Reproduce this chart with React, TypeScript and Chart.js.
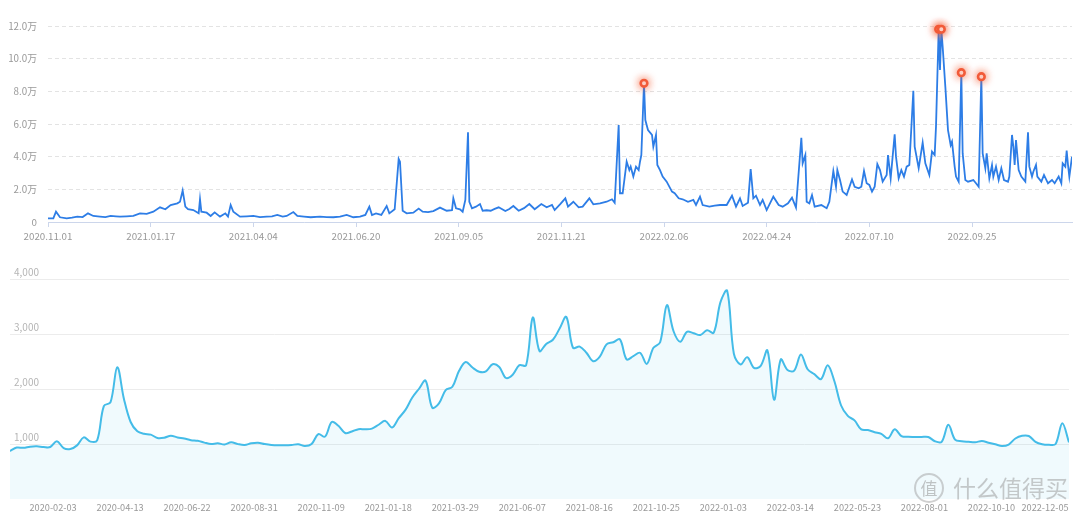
import React, { useEffect, useRef } from 'react';
import { Chart, registerables } from 'chart.js';

Chart.register(...registerables);

// ---------- Top chart (daily, 万) ----------
const topStartDate = '2020-11-01';
const topEndDay = 768;
const topTickLabels = ['2020.11.01', '2021.01.17', '2021.04.04', '2021.06.20', '2021.09.05', '2021.11.21', '2022.02.06', '2022.04.24', '2022.07.10', '2022.09.25'];
const topYTicks = [0, 2, 4, 6, 8, 10, 12];
// [day since 2020-11-01, value in 万]
const topPoints: [number, number][] = [
  [0, 0.22], [4, 0.22], [6, 0.63], [9, 0.29], [14, 0.22], [18, 0.27], [22, 0.33], [26, 0.3], [30, 0.53], [34, 0.37],
  [39, 0.33], [43, 0.3], [47, 0.37], [51, 0.35], [54, 0.33], [59, 0.35], [64, 0.37], [69, 0.53], [74, 0.5], [79, 0.63],
  [84, 0.9], [88, 0.78], [92, 1.04], [97, 1.14], [99, 1.24], [101, 1.92], [103, 0.94], [105, 0.78], [109, 0.73], [113, 0.53],
  [114, 1.39], [115, 0.63], [119, 0.57], [122, 0.37], [125, 0.59], [129, 0.33], [133, 0.53], [135, 0.33], [137, 1.04], [139, 0.63],
  [144, 0.33], [149, 0.35], [154, 0.37], [159, 0.3], [164, 0.33], [168, 0.35], [172, 0.43], [176, 0.33], [179, 0.37], [184, 0.61],
  [187, 0.37], [192, 0.33], [197, 0.29], [204, 0.33], [209, 0.3], [214, 0.29], [219, 0.33], [224, 0.43], [229, 0.29], [234, 0.33],
  [238, 0.43], [241, 0.94], [243, 0.43], [246, 0.53], [250, 0.43], [254, 0.98], [256, 0.53], [260, 0.78], [263, 3.86], [264, 3.69],
  [266, 0.69], [269, 0.53], [274, 0.57], [278, 0.82], [281, 0.63], [285, 0.6], [289, 0.67], [294, 0.88], [299, 0.69], [303, 0.73],
  [304, 1.45], [306, 0.84], [309, 0.78], [311, 0.63], [313, 1.35], [315, 5.49], [316, 1.24], [318, 0.84], [321, 0.94], [324, 1.1],
  [326, 0.69], [329, 0.72], [332, 0.69], [335, 0.8], [338, 0.9], [343, 0.67], [346, 0.8], [349, 0.98], [353, 0.69], [357, 0.85],
  [361, 1.1], [365, 0.78], [370, 1.1], [374, 0.9], [378, 1.04], [380, 0.73], [384, 1.08], [388, 1.45], [390, 0.94], [394, 1.24],
  [398, 0.9], [401, 0.94], [406, 1.45], [409, 1.08], [414, 1.14], [419, 1.24], [423, 1.39], [425, 1.18], [428, 5.94], [429, 1.76],
  [431, 1.76], [434, 3.69], [436, 3.18], [437, 3.39], [439, 2.78], [441, 3.39], [443, 3.18], [444, 3.69], [445, 4.1], [447, 8.49],
  [448, 6.24], [450, 5.63], [453, 5.33], [454, 4.61], [456, 5.33], [457, 3.49], [459, 3.18], [461, 2.78], [464, 2.47], [468, 1.86],
  [470, 1.76], [473, 1.45], [476, 1.39], [480, 1.24], [484, 1.35], [486, 1.04], [489, 1.55], [491, 1.04], [496, 0.94], [500, 1.0],
  [504, 1.04], [509, 1.04], [513, 1.61], [516, 0.94], [519, 1.45], [521, 0.98], [525, 1.18], [527, 3.24], [529, 1.45], [531, 1.61],
  [534, 1.04], [536, 1.35], [539, 0.73], [544, 1.55], [548, 1.04], [551, 0.94], [555, 1.14], [558, 1.49], [561, 0.88], [565, 5.16],
  [566, 3.59], [568, 4.1], [569, 1.24], [571, 1.14], [573, 1.65], [575, 0.94], [580, 1.04], [584, 0.84], [586, 1.24], [589, 3.12],
  [591, 2.16], [592, 3.18], [594, 2.57], [596, 1.86], [599, 1.65], [603, 2.61], [605, 2.16], [608, 2.06], [610, 2.16], [612, 3.12],
  [614, 2.37], [616, 2.27], [618, 1.86], [620, 2.16], [622, 3.55], [624, 3.18], [626, 2.47], [629, 2.88], [630, 4.1], [632, 2.67],
  [635, 5.37], [636, 4.0], [638, 2.67], [640, 3.18], [642, 2.78], [644, 3.39], [646, 3.49], [649, 8.04], [650, 4.61], [653, 3.29],
  [656, 4.86], [658, 3.59], [661, 2.88], [663, 4.31], [665, 4.1], [666, 5.84], [668, 11.8], [669, 9.31], [670, 11.8], [671, 10.73],
  [673, 8.29], [675, 5.63], [677, 4.71], [678, 4.92], [680, 3.39], [681, 2.78], [683, 2.47], [685, 9.14], [686, 4.2], [688, 2.57],
  [690, 2.47], [694, 2.57], [696, 2.37], [698, 2.16], [700, 8.9], [701, 4.2], [703, 3.29], [704, 4.2], [706, 2.67], [708, 3.49],
  [709, 2.78], [711, 3.39], [713, 2.57], [715, 3.29], [717, 2.57], [720, 2.47], [721, 2.78], [723, 5.33], [724, 4.61], [725, 3.49],
  [726, 5.02], [728, 3.18], [730, 2.78], [733, 2.47], [735, 5.49], [736, 3.39], [738, 2.78], [739, 3.08], [741, 3.49], [742, 2.78],
  [745, 2.47], [747, 2.88], [750, 2.37], [753, 2.57], [755, 2.37], [758, 2.78], [760, 2.37], [761, 3.59], [763, 3.39], [764, 4.37],
  [765, 3.49], [766, 2.78], [768, 4.0],
];
const topPeakDays = [447, 668, 670, 685, 700];

// ---------- Bottom chart (weekly) ----------
const bottomStartDate = '2019-12-20';
const bottomTickLabels = ['2020-02-03', '2020-04-13', '2020-06-22', '2020-08-31', '2020-11-09', '2021-01-18', '2021-03-29', '2021-06-07', '2021-08-16', '2021-10-25', '2022-01-03', '2022-03-14', '2022-05-23', '2022-08-01', '2022-10-10', '2022-12-05'];
const bottomYTicks = [0, 1000, 2000, 3000, 4000];
const bottomValues = [
  872, 935, 930, 951, 957, 945, 945, 1050, 925, 908,
  975, 1120, 1043, 1065, 1690, 1760, 2396, 1820, 1400, 1230,
  1185, 1170, 1110, 1115, 1150, 1120, 1100, 1070, 1058, 1025,
  1000, 1012, 992, 1030, 998, 982, 1012, 1022, 998, 982,
  976, 976, 982, 995, 963, 1000, 1180, 1134, 1400, 1330,
  1200, 1228, 1270, 1268, 1280, 1350, 1420, 1300, 1470, 1620,
  1840, 2000, 2152, 1660, 1740, 1980, 2040, 2330, 2490, 2390,
  2315, 2320, 2450, 2400, 2200, 2260, 2433, 2430, 3300, 2690,
  2820, 2895, 3100, 3311, 2750, 2770, 2660, 2506, 2590, 2811,
  2850, 2902, 2537, 2598, 2659, 2457, 2750, 2850, 3524, 3050,
  2860, 3040, 3012, 2982, 3067, 3024, 3580, 3787, 2640, 2445,
  2579, 2384, 2420, 2701, 1805, 2537, 2345, 2335, 2628, 2360,
  2270, 2180, 2433, 2140, 1700, 1510, 1430, 1265, 1253, 1215,
  1185, 1104, 1268, 1145, 1130, 1128, 1128, 1128, 1050, 1040,
  1348, 1079, 1052, 1040, 1030, 1055, 1024, 994, 963, 990,
  1100, 1150, 1146, 1040, 995, 985, 1000, 1378, 1030,
];

const FONT = "'Noto Sans CJK SC', 'Noto Sans', sans-serif";

const dayOf = (label: string, start: string) =>
  Math.round((Date.parse(label.replace(/\./g, '-') + 'T00:00:00Z') - Date.parse(start + 'T00:00:00Z')) / 86400000);

const glowPlugin = {
  id: 'peakGlow',
  beforeDatasetDraw(chart: any, args: any) {
    if (chart.data.datasets[args.index].label === 'peaks') {
      const ctx = chart.ctx;
      ctx.save();
      ctx.shadowColor = 'rgba(245, 90, 50, 0.9)';
      ctx.shadowBlur = 9;
    }
  },
  afterDatasetDraw(chart: any, args: any) {
    if (chart.data.datasets[args.index].label === 'peaks') {
      chart.ctx.restore();
    }
  },
};

export default function App() {
  const topRef = useRef<HTMLCanvasElement>(null);
  const bottomRef = useRef<HTMLCanvasElement>(null);

  useEffect(() => {
    const topTickDays = topTickLabels.map((l) => dayOf(l, topStartDate));
    const linePts = topPoints.map(([x, y]) => ({ x, y }));
    const peakPts = topPoints.filter(([x]) => topPeakDays.includes(x)).map(([x, y]) => ({ x, y }));

    const top = new Chart(topRef.current as HTMLCanvasElement, {
      type: 'line',
      data: {
        datasets: [
          {
            label: 'peaks',
            data: peakPts,
            showLine: false,
            pointRadius: 3.3,
            pointBorderWidth: 2.6,
            pointBorderColor: '#f25a38',
            pointBackgroundColor: '#ffffff',
            clip: false as any,
            order: 0,
          },
          {
            label: 'line',
            data: linePts,
            borderColor: '#2d7de6',
            borderWidth: 1.8,
            pointRadius: 0,
            tension: 0,
            fill: false,
            order: 1,
          },
        ],
      },
      options: {
        animation: false,
        responsive: false,
        maintainAspectRatio: false,
        layout: { padding: { top: 26, right: 8, left: 0, bottom: 0 } },
        plugins: { legend: { display: false }, tooltip: { enabled: false } },
        scales: {
          x: {
            type: 'linear',
            min: 0,
            max: topEndDay,
            afterBuildTicks: (s: any) => {
              s.ticks = topTickDays.map((value) => ({ value }));
            },
            afterFit: (s: any) => {
              s.height = 23;
            },
            ticks: {
              autoSkip: false,
              maxRotation: 0,
              padding: 3,
              color: '#999',
              font: { family: FONT, size: 9.8 },
              callback: (_v: any, i: number) => topTickLabels[i],
            },
            grid: { display: true, drawOnChartArea: false, drawTicks: true, tickLength: 5, color: '#ccd6eb' },
            border: { display: true, color: '#ccd6eb' },
          },
          y: {
            min: 0,
            max: 12,
            afterBuildTicks: (s: any) => {
              s.ticks = topYTicks.map((value) => ({ value }));
            },
            afterFit: (s: any) => {
              s.width = 48;
            },
            ticks: {
              padding: 11,
              color: '#999',
              font: { family: FONT, size: 9.8 },
              callback: (v: any) => (v === 0 ? '0' : Number(v).toFixed(1) + '万'),
            },
            grid: {
              drawTicks: false,
              color: (c: any) => (c.tick && c.tick.value === 0 ? 'rgba(0,0,0,0)' : '#e3e3e3'),
            },
            border: { display: false, dash: [4, 3] },
          },
        },
      },
      plugins: [glowPlugin],
    });

    const bottomTickDays = bottomTickLabels.map((l) => dayOf(l, bottomStartDate));
    const bottomPts = bottomValues.map((y, i) => ({ x: i * 7, y }));

    const bottom = new Chart(bottomRef.current as HTMLCanvasElement, {
      type: 'line',
      data: {
        datasets: [
          {
            data: bottomPts,
            borderColor: '#44bce8',
            borderWidth: 2,
            pointRadius: 0,
            tension: 0.35,
            fill: 'origin',
            backgroundColor: 'rgba(68, 188, 232, 0.08)',
          },
        ],
      },
      options: {
        animation: false,
        responsive: false,
        maintainAspectRatio: false,
        layout: { padding: { top: 34, right: 11, left: 10, bottom: 0 } },
        plugins: { legend: { display: false }, tooltip: { enabled: false } },
        scales: {
          x: {
            type: 'linear',
            min: 0,
            max: (bottomValues.length - 1) * 7,
            afterBuildTicks: (s: any) => {
              s.ticks = bottomTickDays.map((value) => ({ value }));
            },
            afterFit: (s: any) => {
              s.height = 18;
            },
            ticks: {
              autoSkip: false,
              maxRotation: 0,
              padding: 3,
              color: '#999',
              font: { family: FONT, size: 9.2 },
              callback: (_v: any, i: number) => bottomTickLabels[i],
            },
            grid: { display: false, drawTicks: false },
            border: { display: false },
          },
          y: {
            min: 0,
            max: 4000,
            afterBuildTicks: (s: any) => {
              s.ticks = bottomYTicks.map((value) => ({ value }));
            },
            afterFit: (s: any) => {
              s.width = 0;
            },
            ticks: {
              mirror: true,
              padding: 4,
              labelOffset: -7,
              color: '#b5b5b5',
              font: { family: FONT, size: 10 },
              callback: (v: any) => (v === 0 ? '' : Number(v).toLocaleString('en-US')),
            },
            grid: {
              drawTicks: false,
              color: (c: any) => (c.tick && c.tick.value === 0 ? 'rgba(0,0,0,0)' : '#ececec'),
            },
            border: { display: false },
          },
        },
      },
    });

    return () => {
      top.destroy();
      bottom.destroy();
    };
  }, []);

  return (
    <div style={{ position: 'absolute', left: 0, top: 0, width: 1080, height: 517, background: '#fff', overflow: 'hidden' }}>
      <canvas ref={topRef} width={1080} height={245} style={{ position: 'absolute', left: 0, top: 0 }} />
      <canvas ref={bottomRef} width={1080} height={272} style={{ position: 'absolute', left: 0, top: 245 }} />
      <div
        style={{
          position: 'absolute',
          left: 914,
          top: 473,
          width: 26,
          height: 26,
          borderRadius: '50%',
          border: '2px solid rgba(150,150,150,0.45)',
          color: 'rgba(150,150,150,0.55)',
          fontFamily: "'Noto Sans CJK SC', sans-serif",
          fontSize: 17,
          lineHeight: '26px',
          textAlign: 'center',
          pointerEvents: 'none',
        }}
      >
        值
      </div>
      <div
        style={{
          position: 'absolute',
          left: 953,
          top: 472,
          color: 'rgba(150,150,150,0.5)',
          fontFamily: "'Noto Sans CJK SC', sans-serif",
          fontSize: 23,
          lineHeight: '30px',
          letterSpacing: 0,
          whiteSpace: 'nowrap',
          pointerEvents: 'none',
        }}
      >
        什么值得买
      </div>
    </div>
  );
}
